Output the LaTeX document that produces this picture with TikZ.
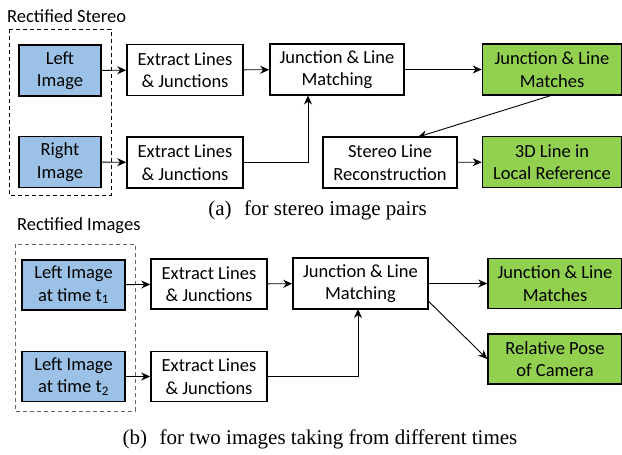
\documentclass[tikz,border=0pt]{standalone}
\usepackage{fontspec}
\setmainfont{Carlito}
\newfontfamily\capfont{Liberation Serif}
\usepackage{xcolor}
\usepackage{tikz}
\usetikzlibrary{arrows.meta, positioning}
\definecolor{imageblue}{RGB}{155,194,230}
\definecolor{matchgreen}{RGB}{146,208,80}
\tikzstyle{block} = [rectangle, minimum height=51pt, inner sep=0pt, align=center, draw=black, line width=1.6pt, fill=white, font=\fontsize{18.5}{22.5}\selectfont]
\tikzstyle{imagebox} = [block, fill=imageblue]
\tikzstyle{resultbox} = [block, fill=matchgreen]
\tikzstyle{arrow} = [line width=0.9pt, -{Stealth[length=9pt, width=8pt]}, draw=black]
\tikzstyle{group} = [draw, dashed, line width=0.9pt, dash pattern=on 4pt off 3pt]
\tikzstyle{grouplabel} = [anchor=west, inner sep=0pt, font=\fontsize{18.5}{22}\selectfont]
\tikzstyle{caption} = [inner sep=0pt, font=\capfont\fontsize{21}{24}\selectfont]

\begin{document}
\begin{tikzpicture}[x=1pt, y=-1pt]
\useasboundingbox (0,0) rectangle (622,455);

% (a) stereo pairs
\node (stereolabel) [grouplabel] at (7,16) {Rectified Stereo};
\draw [group] (9,29) rectangle (111,195);
\node (left) [imagebox, minimum width=82pt] at (60,70.5) {Left\\Image};
\node (right) [imagebox, minimum width=82pt] at (60,162) {Right\\Image};
\node (extractA) [block, minimum width=116pt] at (185,70) {Extract Lines\\\& Junctions};
\node (extractB) [block, minimum width=116pt] at (185,162.5) {Extract Lines\\\& Junctions};
\node (matchA) [block, minimum width=134pt] at (337,69.5) {Junction \& Line\\Matching};
\node (matchesA) [resultbox, minimum width=139pt] at (552,69.5) {Junction \& Line\\Matches};
\node (recon) [block, minimum width=134pt] at (390,162.5) {Stereo Line\\Reconstruction};
\node (local) [resultbox, minimum width=139pt] at (552,162) {3D Line in\\Local Reference};
\node (capA) [caption] at (317.5,210) {(a)\hspace{0.6em}for stereo image pairs};

\draw [arrow] (left) -- (extractA);
\draw [arrow] (right) -- (extractB);
\draw [arrow] (extractA) -- (matchA);
\draw [arrow] (extractB.east) -| (308,95.5);
\draw [arrow] (matchA) -- (matchesA);
\draw [arrow] (matchesA.south) ++(-2,0) -- (418,137);
\draw [arrow] (recon) -- (local);

% (b) two times
\node (timelabel) [grouplabel] at (17,226) {Rectified Images};
\draw [group, draw=black!60] (15,244) rectangle (135,411);
\node (first) [imagebox, minimum width=103pt, minimum height=50pt] at (73.5,285) {Left Image\\at time t\textsubscript{1}};
\node (second) [imagebox, minimum width=103pt, minimum height=50pt] at (73.5,376.5) {Left Image\\at time t\textsubscript{2}};
\node (extractC) [block, minimum width=116pt, minimum height=50pt] at (209,284) {Extract Lines\\\& Junctions};
\node (extractD) [block, minimum width=116pt, minimum height=50pt] at (209,376.5) {Extract Lines\\\& Junctions};
\node (matchB) [block, minimum width=135pt] at (360.5,283.5) {Junction \& Line\\Matching};
\node (matchesB) [resultbox, minimum width=134pt, minimum height=50pt] at (555,283.5) {Junction \& Line\\Matches};
\node (pose) [resultbox, minimum width=134pt, minimum height=50pt] at (555,359) {Relative Pose\\of Camera};
\node (capB) [caption] at (320,439) {(b)\hspace{0.6em}for two images taking from different times};

\draw [arrow] (first) -- (extractC);
\draw [arrow] (second) -- (extractD);
\draw [arrow] (extractC) -- (matchB);
\draw [arrow] (extractD.east) -| (358,309);
\draw [arrow] (matchB) -- (matchesB);
\draw [arrow] (matchB.east) ++(0,18) -- (pose.west);

\end{tikzpicture}
\end{document}
